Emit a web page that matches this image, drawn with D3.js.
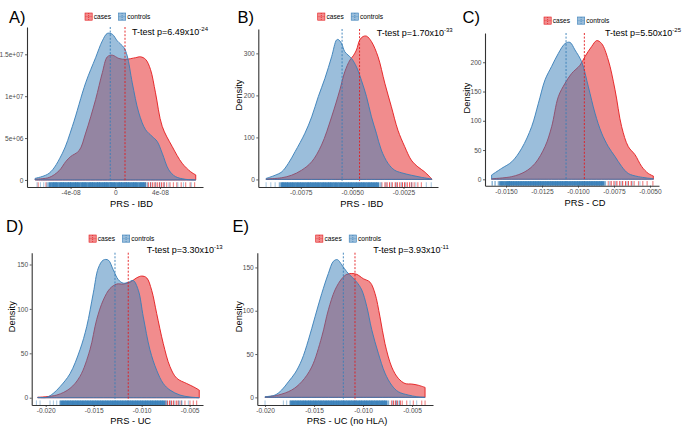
<!DOCTYPE html>
<html><head><meta charset="utf-8">
<script src="https://cdn.jsdelivr.net/npm/d3@7"></script>
<style>body{margin:0;background:#fff}</style></head><body>
<svg id="c" width="685" height="426"></svg>
<script>
// ---------- Panel A (PRS - IBD): x in units of 1e-8, density in units of 1e6 ----------
const A_ctrl_x = [-7.17,-5.92,-4.73,-3.84,-2.65,-1.76,-1.16,-0.71,-0.27,0.18,0.77,1.07,1.52,2.11,2.71,3.30,3.75,4.20,4.79,5.39,6.28,7.20];
const A_ctrl_d = [0.2,0.8,3.2,6.4,11.6,14.6,16.6,17.5,17.4,16.6,15.8,14.8,11.6,8.0,6.0,5.2,4.6,3.2,1.2,0.4,0.08,0.0];
const A_case_x = [-7.17,-5.92,-5.03,-4.43,-3.99,-3.24,-2.65,-1.76,-1.16,-0.71,-0.27,0.33,0.92,1.82,2.26,2.71,3.15,3.60,4.20,5.09,5.98,6.73,7.20];
const A_case_d = [0.1,0.3,1.1,2.2,2.8,3.5,5.6,9.6,12.8,14.7,14.9,14.5,14.4,14.6,14.7,14.4,13.2,10.4,6.4,4.0,2.0,1.0,0.6];
const A_means = {controls:-0.45, cases:0.87};
const A_rug_ctrl = [-7.0,-6.7,-6.4,-6.1,-5.85,-5.6,-5.4,-5.2,-4.95,-4.75,-4.55,-4.3,-4.1,-3.9,-3.65,-3.45,-3.25,-3.0,-2.8,-2.6,-2.35,-2.15,-1.95,-1.7,-1.5,-1.3,-1.05,-0.85,-0.65,-0.4,-0.2,0.0,0.25,0.45,0.65,0.9,1.1,1.3,1.55,1.75,1.95,2.2,2.4,2.6,2.85,3.2,3.6,4.0,4.4,4.8,5.6,6.1,6.8];
const A_rug_case = [-6.9,-6.2,2.7,2.95,3.15,3.35,3.55,3.75,3.95,4.15,4.35,4.6,4.9,5.2,5.5,5.9,6.3,6.7,7.1];
const A_xticks = [-4,0,4], A_xlabels = ["-4e-08","0","4e-08"];
const A_yticks = [0,5,10,15], A_ylabels = ["0","5e+06","1e+07","1.5e+07"];
const A_p = ["6.49","-24"];

// ---------- Panel B (PRS - IBD) ----------
const B_ctrl_x = [-0.00919,-0.00875,-0.00843,-0.00811,-0.00778,-0.0073,-0.00697,-0.00665,-0.00633,-0.006,-0.00576,-0.00568,-0.00552,-0.00536,-0.0052,-0.00503,-0.00479,-0.00455,-0.0043,-0.00406,-0.00382,-0.00358,-0.00325,-0.00293,-0.00261,-0.00212,-0.00163,-0.00112];
const B_ctrl_d = [2.4,10,18,38,66,110,149,197,240,292,332,333,324,304,296,288,268,236,197,149,110,70,38,22,16,10,5,1];
const B_case_x = [-0.00919,-0.00843,-0.00795,-0.00746,-0.00697,-0.00649,-0.006,-0.0056,-0.00536,-0.00511,-0.00495,-0.00479,-0.00463,-0.00447,-0.0043,-0.00406,-0.00374,-0.00341,-0.00309,-0.00277,-0.00244,-0.00212,-0.0018,-0.00147,-0.00112];
const B_case_d = [1,4,10,22,42,82,149,213,256,284,294,308,332,340,341,328,292,229,173,117,78,46,30,18,1];
const B_means = {controls:-0.00549, cases:-0.00464};
const B_rug_ctrl = [-0.00919,-0.00896,-0.00875,-0.00854,-0.00842,-0.00832,-0.0082,-0.00808,-0.00795,-0.00783,-0.0077,-0.00758,-0.00746,-0.00733,-0.0072,-0.00709,-0.00697,-0.00684,-0.00672,-0.0066,-0.00647,-0.00635,-0.00622,-0.0061,-0.00598,-0.00585,-0.00573,-0.0056,-0.00548,-0.00536,-0.00523,-0.00511,-0.00499,-0.00486,-0.00474,-0.00461,-0.00449,-0.00437,-0.00424,-0.00412,-0.004,-0.00387,-0.00375,-0.0036,-0.00335,-0.0031,-0.00285,-0.0026,-0.0024,-0.0021,-0.0019,-0.00139,-0.00115];
const B_rug_case = [-0.00355,-0.0034,-0.0033,-0.00318,-0.00305,-0.0029,-0.0028,-0.00268,-0.00255,-0.00245,-0.00232,-0.0022,-0.0021,-0.00198,-0.0018,-0.00163];
const B_xticks = [-0.0075,-0.005,-0.0025], B_xlabels = ["-0.0075","-0.0050","-0.0025"];
const B_yticks = [0,100,200,300], B_ylabels = ["0","100","200","300"];
const B_p = ["1.70","-33"];

// ---------- Panel C (PRS - CD) ----------
const C_ctrl_x = [-0.016,-0.0153,-0.0146,-0.01391,-0.01322,-0.01275,-0.01229,-0.01183,-0.01137,-0.0109,-0.01056,-0.01021,-0.00975,-0.00928,-0.00882,-0.00836,-0.0079,-0.00743,-0.00697,-0.00651,-0.00581,-0.00477];
const C_ctrl_d = [7.4,18.8,30,53,90,130,170,193,215,232,234,221,201,158,113,79,56,39,22,10,4.6,1];
const C_case_x = [-0.016,-0.0146,-0.01368,-0.01299,-0.01229,-0.01183,-0.01137,-0.0109,-0.01044,-0.00986,-0.00951,-0.00905,-0.0087,-0.00836,-0.0079,-0.00743,-0.00697,-0.00651,-0.00604,-0.00558,-0.00512,-0.00477];
const C_case_d = [1,4.6,13,27,56,90,141,164,181,195,210,227,237,232,204,153,90,56,42,22,10,5.7];
const C_means = {controls:-0.01083, cases:-0.00956};
const C_rug_ctrl = [-0.01596,-0.01576,-0.01553,-0.01537,-0.01519,-0.015,-0.01484,-0.01472,-0.01455,-0.01438,-0.01421,-0.01404,-0.01387,-0.0137,-0.01353,-0.01336,-0.01319,-0.01302,-0.01285,-0.01268,-0.01251,-0.01234,-0.01217,-0.012,-0.01183,-0.01166,-0.01149,-0.01132,-0.01115,-0.01098,-0.01081,-0.01064,-0.01047,-0.0103,-0.01013,-0.00996,-0.00979,-0.00962,-0.00945,-0.00928,-0.00911,-0.00894,-0.00877,-0.0086,-0.00843,-0.00826,-0.0081,-0.0078,-0.0074,-0.007,-0.0066,-0.0062,-0.0057];
const C_rug_case = [-0.0079,-0.0077,-0.0075,-0.0073,-0.0071,-0.0069,-0.0067,-0.0065,-0.0063,-0.0061,-0.0058,-0.0055,-0.0052,-0.0048];
const C_xticks = [-0.015,-0.0125,-0.01,-0.0075,-0.005], C_xlabels = ["-0.0150","-0.0125","-0.0100","-0.0075","-0.0050"];
const C_yticks = [0,50,100,150,200], C_ylabels = ["0","50","100","150","200"];
const C_p = ["5.50","-25"];

// ---------- Panel D (PRS - UC) ----------
const D_ctrl_x = [-0.02083,-0.0199,-0.01921,-0.01851,-0.01747,-0.01643,-0.01573,-0.01504,-0.01452,-0.014,-0.01348,-0.01296,-0.01244,-0.01192,-0.0114,-0.01088,-0.01035,-0.00983,-0.00914,-0.00844,-0.00775,-0.00705,-0.00601,-0.00497,-0.004];
const D_ctrl_d = [0.5,0.4,4.9,12.4,27,54,80,118,146,155,155,144,133,129,130,132,121,91,54,31,16,8.6,3,0.8,0];
const D_case_x = [-0.02083,-0.01885,-0.01747,-0.01643,-0.01539,-0.01469,-0.014,-0.0133,-0.0126,-0.01192,-0.01122,-0.01052,-0.01,-0.00948,-0.00896,-0.00844,-0.00775,-0.00705,-0.00635,-0.00531,-0.00462,-0.004];
const D_case_d = [0.5,3,10.5,24,54,88,110,123,128,128,130,135,137,135,121,95,61,35,22,16,12.4,8.6];
const D_means = {controls:-0.01278, cases:-0.0114};
const D_rug_ctrl = [-0.02097,-0.02059,-0.01955,-0.0192,-0.01885,-0.01851,-0.01833,-0.01807,-0.01781,-0.01755,-0.01729,-0.01703,-0.01677,-0.01651,-0.01625,-0.01599,-0.01573,-0.01547,-0.01521,-0.01495,-0.01469,-0.01443,-0.01417,-0.01391,-0.01365,-0.01339,-0.01313,-0.01287,-0.01261,-0.01235,-0.01209,-0.01183,-0.01157,-0.01131,-0.01105,-0.01079,-0.01053,-0.01027,-0.01001,-0.00975,-0.00949,-0.00923,-0.00897,-0.00871,-0.00845,-0.00819,-0.00793,-0.00767,-0.0074,-0.007,-0.0066,-0.0061,-0.00583,-0.00514];
const D_rug_case = [-0.0075,-0.0073,-0.0071,-0.0069,-0.0067,-0.0064,-0.0062,-0.0059,-0.00549,-0.00497,-0.00462,-0.00427];
const D_xticks = [-0.02,-0.015,-0.01,-0.005], D_xlabels = ["-0.020","-0.015","-0.010","-0.005"];
const D_yticks = [0,50,100,150], D_ylabels = ["0","50","100","150"];
const D_p = ["3.30","-13"];

// ---------- Panel E (PRS - UC (no HLA)) ----------
const E_ctrl_x = [-0.02,-0.01898,-0.0183,-0.01762,-0.01694,-0.01626,-0.01558,-0.0149,-0.01421,-0.01354,-0.01303,-0.01262,-0.01217,-0.01166,-0.01115,-0.01064,-0.01013,-0.00962,-0.00911,-0.00844,-0.00776,-0.00707,-0.0064,-0.00538,-0.00452,-0.00367];
const E_ctrl_d = [0.8,2.7,8.5,18,28,43,66,93,120,143,157,159,153,145,139,133,124,105,78,51,28,14,6.5,2.7,0.8,0];
const E_case_x = [-0.02,-0.01864,-0.01728,-0.01626,-0.01524,-0.01421,-0.01354,-0.01286,-0.01217,-0.01166,-0.01115,-0.01064,-0.00997,-0.00929,-0.00878,-0.00827,-0.00776,-0.00707,-0.0064,-0.00571,-0.00503,-0.00436,-0.00367];
const E_case_d = [0.4,2.7,8.5,18,35,70,101,124,137,142,143,142,137,133,120,93,62,35,22,16,15.4,14,11.5];
const E_means = {controls:-0.01201, cases:-0.01082};
const E_rug_ctrl = [-0.02,-0.01813,-0.01779,-0.01745,-0.01728,-0.01702,-0.01676,-0.0165,-0.01624,-0.01598,-0.01572,-0.01546,-0.0152,-0.01494,-0.01468,-0.01442,-0.01416,-0.0139,-0.01364,-0.01338,-0.01312,-0.01286,-0.0126,-0.01234,-0.01208,-0.01182,-0.01156,-0.0113,-0.01104,-0.01078,-0.01052,-0.01026,-0.01,-0.00974,-0.00948,-0.00922,-0.00896,-0.0087,-0.00844,-0.00818,-0.00792,-0.00766,-0.0074,-0.007,-0.0066,-0.0063,-0.0052,-0.00452];
const E_rug_case = [-0.0071,-0.0069,-0.0067,-0.0065,-0.0062,-0.006,-0.00554,-0.00487,-0.00401,-0.00367];
const E_xticks = [-0.02,-0.015,-0.01,-0.005], E_xlabels = ["-0.020","-0.015","-0.010","-0.005"];
const E_yticks = [0,50,100,150], E_ylabels = ["0","50","100","150"];
const E_p = ["3.93","-11"];

const groups = ["cases","controls"];

// ---------- layout / style ----------
const RED = '#E41A1C', BLUE = '#377EB8';
const FONT = '"Liberation Sans",Arial,Helvetica,sans-serif';
const svg = d3.select('#c').style('font-family', FONT);

const panels = [
 {letter:'A)', lx:9, ly:22.5, box:{l:27,r:203,t:27,b:187}, xd:[-7.9,7.85], yd:[-0.84,18.26],
  cx:A_ctrl_x, cd:A_ctrl_d, kx:A_case_x, kd:A_case_d, means:A_means, rc:A_rug_ctrl, rk:A_rug_case,
  xt:A_xticks, xl:A_xlabels, yt:A_yticks, yl:A_ylabels, p:A_p, leg:[85,13], tt:[132,35],
  xtitle:'PRS - IBD', xtp:[131.5,206.5], ytp:null},
 {letter:'B)', lx:237.5, ly:22.5, box:{l:258.3,r:438,t:29,b:187}, xd:[-0.00957,-0.00082], yd:[-18,358],
  cx:B_ctrl_x, cd:B_ctrl_d, kx:B_case_x, kd:B_case_d, means:B_means, rc:B_rug_ctrl, rk:B_rug_case,
  xt:B_xticks, xl:B_xlabels, yt:B_yticks, yl:B_ylabels, p:B_p, leg:[317.7,13], tt:[376.7,36],
  xtitle:'PRS - IBD', xtp:[361.7,206.5], ytp:[241.5,95]},
 {letter:'C)', lx:462.5, ly:22.5, box:{l:485,r:659,t:33,b:185.7}, xd:[-0.01646,-0.004375], yd:[-10.9,250],
  cx:C_ctrl_x, cd:C_ctrl_d, kx:C_case_x, kd:C_case_d, means:C_means, rc:C_rug_ctrl, rk:C_rug_case,
  xt:C_xticks, xl:C_xlabels, yt:C_yticks, yl:C_ylabels, p:C_p, leg:[544,17], tt:[605,35.5],
  xtitle:'PRS - CD', xtp:[585,205.5], ytp:[469.5,98]},
 {letter:'D)', lx:6, ly:231.5, box:{l:31.7,r:203,t:252.7,b:405}, xd:[-0.02146,-0.00361], yd:[-8.2,163.3],
  cx:D_ctrl_x, cd:D_ctrl_d, kx:D_case_x, kd:D_case_d, means:D_means, rc:D_rug_ctrl, rk:D_rug_case,
  xt:D_xticks, xl:D_xlabels, yt:D_yticks, yl:D_ylabels, p:D_p, leg:[89,235], tt:[146.7,253],
  xtitle:'PRS - UC', xtp:[130.7,423.5], ytp:[14.5,316.7]},
 {letter:'E)', lx:232.5, ly:231.5, box:{l:257.3,r:433,t:252.7,b:405}, xd:[-0.02079,-0.00286], yd:[-8.8,167],
  cx:E_ctrl_x, cd:E_ctrl_d, kx:E_case_x, kd:E_case_d, means:E_means, rc:E_rug_ctrl, rk:E_rug_case,
  xt:E_xticks, xl:E_xlabels, yt:E_yticks, yl:E_ylabels, p:E_p, leg:[315.7,235], tt:[373.3,253],
  xtitle:'PRS - UC (no HLA)', xtp:[347,423.5], ytp:[241.5,316.7]}
];

function drawPanel(p){
  const g = svg.append('g');
  const b = p.box;
  const x = d3.scaleLinear().domain(p.xd).range([b.l, b.r]);
  const y = d3.scaleLinear().domain(p.yd).range([b.b, b.t]);
  const area = d3.area().x(d=>x(d[0])).y0(y(0)).y1(d=>y(d[1])).curve(d3.curveCatmullRom.alpha(0.5));
  const series = [[p.kx,p.kd,RED],[p.cx,p.cd,BLUE]];
  series.forEach(([xs,ds,c])=>{
    g.append('path').attr('d', area(xs.map((v,i)=>[v,ds[i]])))
     .attr('fill',c).attr('fill-opacity',0.5).attr('stroke',c).attr('stroke-width',0.9).attr('stroke-linejoin','round');
  });
  // mean lines
  [[p.means.cases,RED],[p.means.controls,BLUE]].forEach(([m,c])=>{
    g.append('line').attr('x1',x(m)).attr('x2',x(m)).attr('y1',b.t).attr('y2',b.b)
     .attr('stroke',c).attr('stroke-width',0.9).attr('stroke-dasharray','2,1.6');
  });
  // rug
  const rl = 0.03*(b.b-b.t);
  g.append('rect').attr('x',b.l).attr('width',b.r-b.l).attr('y',b.b-rl-1.2).attr('height',1.2).attr('fill','#fff');
  [[p.rk,RED,false],[p.rc,BLUE,true]].forEach(([vals,c,isCtrl])=>{
    const px = vals.map(v=>x(v));
    px.forEach((xx)=>{
      const n = px.filter(o=>Math.abs(o-xx)<3.2).length-1;
      let w, op;
      if(isCtrl){ w = n>=2?3.1:(n==1?1.4:1); op = n>=2?0.95:(n==1?0.6:0.45); }
      else { w = 1.1; op = n>=2?0.75:0.55; }
      g.append('line').attr('x1',xx).attr('x2',xx).attr('y1',b.b-rl).attr('y2',b.b)
       .attr('stroke',c).attr('stroke-width',w).attr('stroke-opacity',op);
    });
  });
  // axes
  const ax = g.append('g').attr('transform',`translate(0,${b.b})`)
    .call(d3.axisBottom(x).tickValues(p.xt).tickFormat((d,i)=>p.xl[i]).tickSize(2).tickSizeOuter(0).tickPadding(1.2));
  const ay = g.append('g').attr('transform',`translate(${b.l},0)`)
    .call(d3.axisLeft(y).tickValues(p.yt).tickFormat((d,i)=>p.yl[i]).tickSize(2).tickSizeOuter(0).tickPadding(1.5));
  [ax,ay].forEach(a=>{
    a.select('.domain').attr('stroke','#333').attr('stroke-width',1.1);
    a.selectAll('.tick line').attr('stroke','#333').attr('stroke-width',0.8);
    a.selectAll('.tick text').attr('fill','#4d4d4d').style('font-size','6.6px').style('font-family',FONT);
  });
  // titles
  svg.append('text').attr('x',p.lx).attr('y',p.ly).text(p.letter).style('font-size','16.5px').attr('fill','#000');
  svg.append('text').attr('x',p.xtp[0]).attr('y',p.xtp[1]).attr('text-anchor','middle').text(p.xtitle)
     .style('font-size','9.3px').attr('fill','#000');
  if(p.ytp){
    svg.append('text').attr('transform',`translate(${p.ytp[0]},${p.ytp[1]}) rotate(-90)`).attr('text-anchor','middle')
      .text('Density').style('font-size','9.3px').attr('fill','#000');
  }
  // t-test
  const t = svg.append('text').attr('x',p.tt[0]).attr('y',p.tt[1]).style('font-size','9px').attr('fill','#000');
  t.append('tspan').text('T-test p='+p.p[0]+'x10');
  t.append('tspan').attr('dy',-3.8).style('font-size','6px').text(p.p[1]);
  // legend
  const [lx,ly] = p.leg;
  const keys = [[groups[0],RED,0],[groups[1],BLUE,33.5]];
  keys.forEach(([name,c,off])=>{
    const kx = lx+off, s=7.2;
    svg.append('rect').attr('x',kx).attr('y',ly).attr('width',s).attr('height',s)
       .attr('fill',c).attr('fill-opacity',0.5).attr('stroke',c).attr('stroke-width',0.6);
    svg.append('line').attr('x1',kx+s/2).attr('x2',kx+s/2).attr('y1',ly).attr('y2',ly+s)
       .attr('stroke',c).attr('stroke-width',0.7).attr('stroke-dasharray','1,1');
    svg.append('line').attr('x1',kx).attr('x2',kx+s).attr('y1',ly+s/2).attr('y2',ly+s/2)
       .attr('stroke',c).attr('stroke-width',0.5).attr('stroke-opacity',0.6);
    svg.append('text').attr('x',kx+8.8).attr('y',ly+6).text(name).style('font-size','6.6px').attr('fill','#000');
  });
}
panels.forEach(drawPanel);
</script>
</body></html>
